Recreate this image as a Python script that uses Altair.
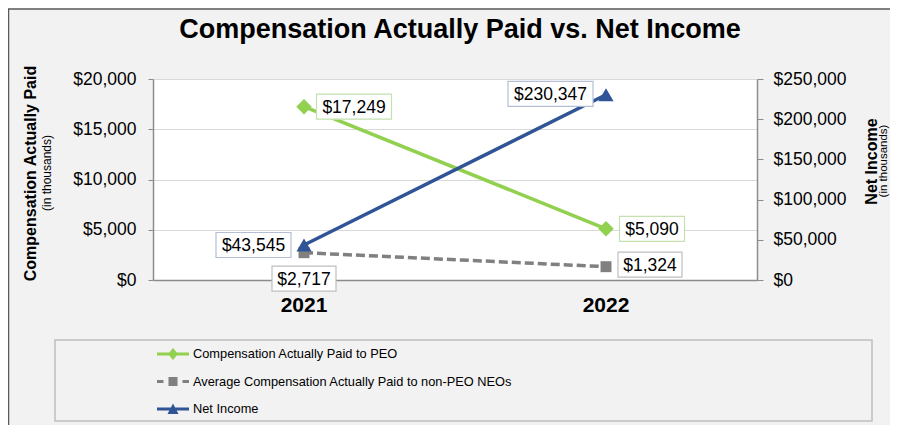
import altair as alt
import pandas as pd

# ---------------- data ----------------
years = ["2021", "2022"]
series_names = [
    "Compensation Actually Paid to PEO",
    "Average Compensation Actually Paid to non-PEO NEOs",
    "Net Income",
]
peo_values = [17249, 5090]
neo_values = [2717, 1324]
net_income_values = [43545, 230347]
left_ticks = [0, 5000, 10000, 15000, 20000]
right_ticks = [0, 50000, 100000, 150000, 200000, 250000]
chart_title = "Compensation Actually Paid vs. Net Income"
sub_title = "(in thousands)"

rows = []
for name, vals in zip(series_names, [peo_values, neo_values, net_income_values]):
    for yr, v in zip(years, vals):
        rows.append({"year": yr, "series": name, "value": v, "label": f"${v:,}"})
df = pd.DataFrame(rows)

# ---------------- style ----------------
FONT = "Liberation Sans"
GREEN = "#92d050"
GRAY = "#808080"
BLUE = "#2f5597"
AXIS_GRAY = "#8c8c8c"

X = alt.X(
    "year:N",
    sort=years,
    scale=alt.Scale(type="band", domain=years, paddingInner=0, paddingOuter=0),
    axis=alt.Axis(
        title=None, labelAngle=0, labelFont=FONT, labelFontSize=21,
        labelFontWeight="bold", labelColor="black", ticks=False,
        domainColor=AXIS_GRAY, domainWidth=1.5, labelPadding=14.5, grid=False,
    ),
)

YL = alt.Y(
    "value:Q",
    scale=alt.Scale(domain=[0, 20000], nice=False),
    axis=alt.Axis(
        values=left_ticks, format="$,.0f", title="Compensation Actually Paid",
        titleFont=FONT, titleFontSize=16, titleFontWeight="bold", titleColor="black",
        titleAngle=270, titleX=-123, titleY=94, titleAlign="center", titleBaseline="middle",
        labelFont=FONT, labelFontSize=17.5, labelColor="black", labelPadding=12,
        tickSize=5, tickColor=AXIS_GRAY, domainColor=AXIS_GRAY, domainWidth=1.5,
        grid=True, gridColor="#d9d9d9", gridWidth=1.2,
    ),
)

YR = alt.Y(
    "value:Q",
    scale=alt.Scale(domain=[0, 250000], nice=False),
    axis=alt.Axis(
        orient="right", values=right_ticks, format="$,.0f", title="Net Income",
        titleFont=FONT, titleFontSize=16, titleFontWeight="bold", titleColor="black",
        titleAngle=270, titleX=114, titleY=82, titleAlign="center", titleBaseline="middle",
        labelFont=FONT, labelFontSize=17.5, labelColor="black", labelPadding=10,
        tickSize=6, tickColor=AXIS_GRAY, domainColor=AXIS_GRAY, domainWidth=1.5,
        grid=False,
    ),
)


def series_chart(i):
    return alt.Chart(df).transform_filter(alt.datum.series == series_names[i])


def label_layer(i, year, w, dx, dy, border, y_enc, h=25):
    base = alt.Chart(df).transform_filter(
        (alt.datum.series == series_names[i]) & (alt.datum.year == year)
    )
    r = h / w
    path = f"M-1,-{r:.4f}L1,-{r:.4f}L1,{r:.4f}L-1,{r:.4f}Z"
    box = base.mark_point(
        shape=path, size=w * w, filled=True, fill="white", stroke=border,
        strokeWidth=1.2, opacity=1, xOffset=dx, yOffset=dy,
    ).encode(x=X, y=y_enc)
    txt = base.mark_text(
        font=FONT, fontSize=17.5, color="black", align="center", baseline="middle",
        dx=dx, dy=dy + 1,
    ).encode(x=X, y=y_enc, text="label:N")
    return [box, txt]


# decorative frame, legend box, title and sub-titles
one = alt.Data(values=[{"k": 1}])
frame_top = alt.Chart(one).mark_rule(color="#595959", strokeWidth=1.5).encode(
    x=alt.value(-145), x2=alt.value(760), y=alt.value(-70)
)
frame_left = alt.Chart(one).mark_rule(color="#595959", strokeWidth=1.5).encode(
    x=alt.value(-144.5), y=alt.value(-70), y2=alt.value(420)
)
legend_box = alt.Chart(one).mark_rect(fillOpacity=0, stroke="#bfbfbf", strokeWidth=1.5).encode(
    x=alt.value(-98), x2=alt.value(719), y=alt.value(261), y2=alt.value(342)
)
title_mark = alt.Chart(one).mark_text(
    text=chart_title, font=FONT, fontSize=27, fontWeight="bold", color="black",
    align="center", baseline="middle",
).encode(x=alt.value(307), y=alt.value(-49))
sub_left = alt.Chart(one).mark_text(
    text=sub_title, font=FONT, fontSize=12, angle=270, color="black",
    align="center", baseline="middle",
).encode(x=alt.value(-106), y=alt.value(94))
sub_right = alt.Chart(one).mark_text(
    text=sub_title, font=FONT, fontSize=11.5, angle=270, color="black",
    align="center", baseline="middle",
).encode(x=alt.value(731), y=alt.value(82))

# lines and markers
peo_line = series_chart(0).mark_line(color=GREEN, strokeWidth=3.5).encode(x=X, y=YL)
peo_pts = series_chart(0).mark_point(
    shape="diamond", size=240, filled=True, color=GREEN, opacity=1
).encode(x=X, y=YL)
neo_line = series_chart(1).mark_line(color=GRAY, strokeWidth=3.5, strokeDash=[9, 4]).encode(x=X, y=YL)
neo_pts = series_chart(1).mark_point(
    shape="square", size=120, filled=True, color=GRAY, opacity=1
).encode(x=X, y=YL)
net_line = series_chart(2).mark_line(color=BLUE, strokeWidth=3.5).encode(x=X, y=YR)
net_pts = series_chart(2).mark_point(
    shape="triangle-up", size=230, filled=True, color=BLUE, opacity=1
).encode(x=X, y=YR)

# legend (symbols drawn as line + marker)
legend_paths = [
    "M-1.6,-0.15L1.6,-0.15L1.6,0.15L-1.6,0.15Z M0,-0.6L0.5,0L0,0.6L-0.5,0Z",
    "M-1.6,-0.15L-0.95,-0.15L-0.95,0.15L-1.6,0.15Z M-0.45,-0.45L0.45,-0.45L0.45,0.45L-0.45,0.45Z M0.95,-0.15L1.6,-0.15L1.6,0.15L0.95,0.15Z",
    "M-1.6,-0.15L1.6,-0.15L1.6,0.15L-1.6,0.15Z M0,-0.55L0.55,0.5L-0.55,0.5Z",
]
legend_props = dict(
    orient="none", legendX=10, legendY=265, direction="vertical", padding=0,
    symbolSize=400, symbolStrokeWidth=0, labelFont=FONT,
    labelFontSize=12.8, labelColor="black", labelOffset=10, rowPadding=10.5,
    labelLimit=600,
)
legend_layer = alt.Chart(df).mark_point(filled=True, opacity=1, clip=True).encode(
    x=alt.value(-3000), y=alt.value(-3000),
    color=alt.Color(
        "series:N", title=None,
        scale=alt.Scale(domain=series_names, range=[GREEN, GRAY, BLUE]),
        legend=alt.Legend(**legend_props),
    ),
    shape=alt.Shape(
        "series:N", title=None,
        scale=alt.Scale(domain=series_names, range=legend_paths),
        legend=alt.Legend(**legend_props),
    ),
)

left_layers = [frame_top, frame_left, legend_box, title_mark, sub_left, sub_right,
               peo_line, neo_line, peo_pts, neo_pts]
left_layers += label_layer(0, "2021", 75, 50, 0, "#c6e0b0", YL)
left_layers += label_layer(0, "2022", 65, 46, 0, "#c6e0b0", YL)
left_layers += label_layer(1, "2021", 64, 0, 26, "#bfbfbf", YL)
left_layers += label_layer(1, "2022", 64, 44, -2, "#bfbfbf", YL)
left_layers.append(legend_layer)

right_layers = [net_line, net_pts]
right_layers += label_layer(2, "2021", 75, -50.5, 0, "#b4bfd6", YR)
right_layers += label_layer(2, "2022", 85, -55.5, -1, "#b4bfd6", YR)

left = alt.layer(*left_layers)
right = alt.layer(*right_layers)

chart = (
    alt.layer(left, right)
    .resolve_scale(y="independent")
    .properties(
        width=604,
        height=201,
        autosize=alt.AutoSizeParams(type="none"),
        padding={"left": 145, "top": 71, "right": 133, "bottom": 145},
        background="#f2f2f2",
    )
    .configure_view(fill="white", strokeWidth=0)
)

chart.save("out.html", embed_options={"renderer": "svg", "actions": False})
